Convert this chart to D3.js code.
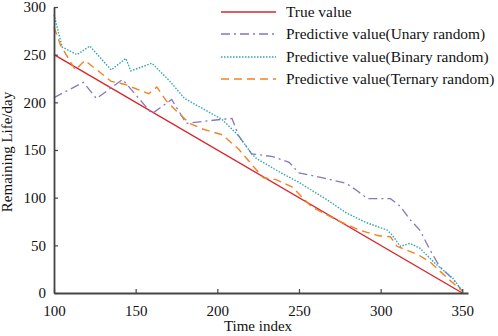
<!DOCTYPE html>
<html>
<head>
<meta charset="utf-8">
<script src="https://cdn.jsdelivr.net/npm/d3@7"></script>
<style>
  body { margin: 0; background: #fff; }
  svg { display: block; }
</style>
</head>
<body>
<div id="chart"></div>
<script>
// data: [time index, remaining life]
const trueValue = [[100, 250], [350, 0]];
const unary = [[100,205],[118,221],[126,204],[142,224],[160,188],[172,203],[181,178],[202,182],[209,183],[213,165],[221,146],[234,143],[244,137],[250,126],[264,121],[279,115],[285,108],[292,99],[306,99],[312,91],[318,77],[324,66],[330,46],[336,28],[344,15],[350,2]];
const binary = [[100,292],[105,258],[114,250],[122,259],[135,234],[144,246],[147,233],[160,241],[171,222],[180,204],[203,182],[213,165],[221,146],[224,141],[238,127],[250,116],[267,98],[279,84],[291,74],[304,66],[307,61],[312,49],[318,52],[324,47],[334,30],[344,16],[350,2]];
const ternary = [[100,279],[104,260],[113,234],[119,244],[135,222],[143,219],[158,209],[163,216],[169,201],[175,191],[183,178],[191,172],[203,166],[213,151],[224,129],[228,121],[236,119],[246,111],[258,90],[275,75],[287,66],[299,60],[306,59],[310,49],[316,45],[323,40],[330,33],[340,17],[350,2]];

const xTicks = [100, 150, 200, 250, 300, 350];
const yTicks = [0, 50, 100, 150, 200, 250, 300];
const seriesNames = ["True value", "Predictive value(Unary random)", "Predictive value(Binary random)", "Predictive value(Ternary random)"];

const width = 498, height = 336;
const font = "'Liberation Serif', 'Times New Roman', serif";

const svg = d3.select("#chart").append("svg")
  .attr("width", width)
  .attr("height", height)
  .style("font-family", font);

const x = d3.scaleLinear().domain([100, 353.5]).range([54, 468]);
const y = d3.scaleLinear().domain([0, 300]).range([293, 7]);

// 曲线样式
const styles = [
  { color: "#d7262b", dash: null, width: 1.4 },
  { color: "#8876be", dash: "9,4,2,4", width: 1.3 },
  { color: "#2fa6b6", dash: "1.5,1.5", width: 1.4 },
  { color: "#f28324", dash: "8,5", width: 1.4 }
];
const allSeries = [trueValue, unary, binary, ternary];

const line = d3.line().x(d => x(d[0])).y(d => y(d[1]));

allSeries.forEach((data, i) => {
  svg.append("path")
    .datum(data)
    .attr("fill", "none")
    .attr("stroke", styles[i].color)
    .attr("stroke-width", styles[i].width)
    .attr("stroke-dasharray", styles[i].dash)
    .attr("d", line);
});

// axes
const axisColor = "#444";
const xAxis = svg.append("g")
  .attr("transform", `translate(0,${y(0)})`)
  .call(d3.axisBottom(x).tickValues(xTicks).tickSizeInner(-4).tickSizeOuter(0).tickPadding(12));
const yAxis = svg.append("g")
  .attr("transform", `translate(${x(100)},0)`)
  .call(d3.axisLeft(y).tickValues(yTicks).tickSizeInner(-4).tickSizeOuter(0).tickPadding(8));

[xAxis, yAxis].forEach(g => {
  g.select(".domain").attr("stroke", axisColor).attr("stroke-width", 1.8);
  g.selectAll(".tick line").attr("stroke", axisColor).attr("stroke-width", 1.2);
  g.selectAll(".tick text").attr("fill", "#111").style("font-size", "15px").style("font-family", font);
});

// axis titles
svg.append("text")
  .attr("x", 258).attr("y", 331)
  .attr("text-anchor", "middle")
  .style("font-size", "15px")
  .attr("fill", "#111")
  .text("Time index");
svg.append("text")
  .attr("transform", `translate(12,${152}) rotate(-90)`)
  .attr("text-anchor", "middle")
  .style("font-size", "15px")
  .attr("fill", "#111")
  .text("Remaining Life/day");

// legend
const legendY = [12, 34, 57, 79];
seriesNames.forEach((name, i) => {
  svg.append("line")
    .attr("x1", 221).attr("x2", 276)
    .attr("y1", legendY[i]).attr("y2", legendY[i])
    .attr("stroke", styles[i].color)
    .attr("stroke-width", styles[i].width)
    .attr("stroke-dasharray", styles[i].dash);
  svg.append("text")
    .attr("x", 286).attr("y", legendY[i] + 5)
    .style("font-size", "15.4px")
    .attr("fill", "#111")
    .text(name);
});
</script>
</body>
</html>
